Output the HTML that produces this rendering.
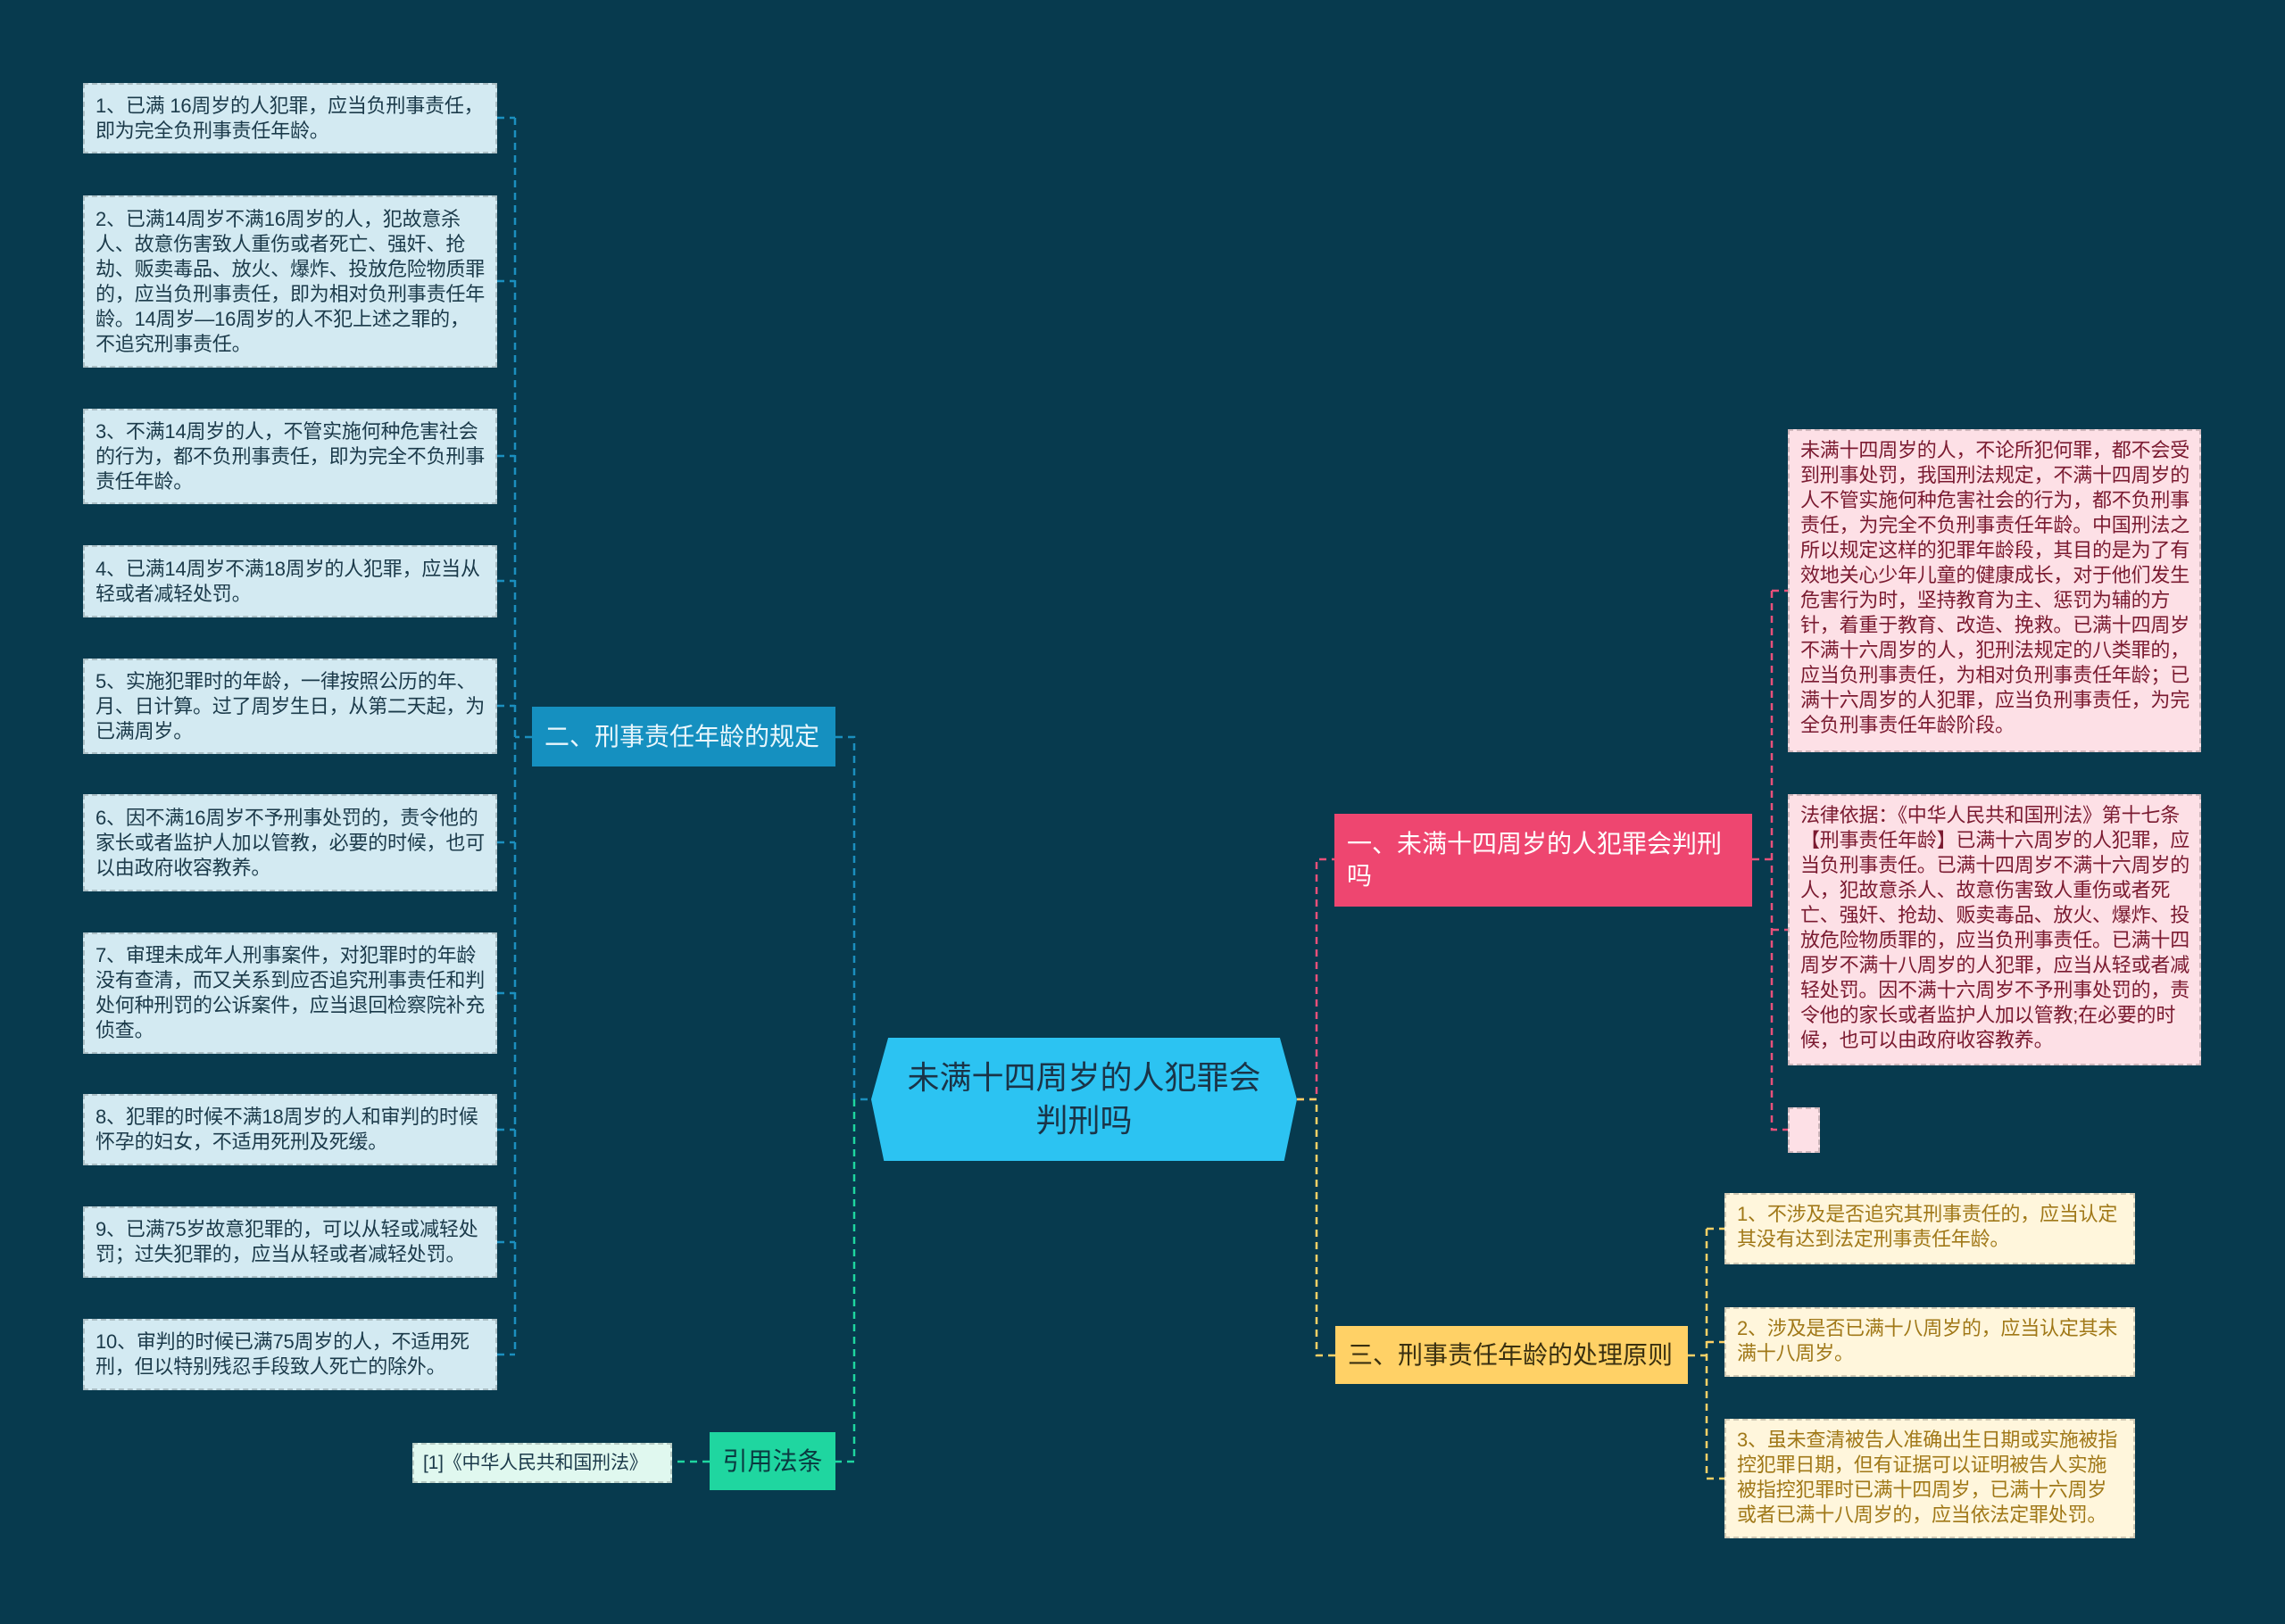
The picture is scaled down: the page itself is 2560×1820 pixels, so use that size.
<!DOCTYPE html>
<html><head><meta charset="utf-8"><style>
body{margin:0;width:2560px;height:1820px;background:#073a4e;position:relative;overflow:hidden;font-family:"Liberation Sans","Noto Sans CJK SC",sans-serif}
.b{position:absolute;box-sizing:border-box;font-size:22px;line-height:28px;padding:8px 10px 8px 12px;border:2px dashed rgba(0,0,0,0.18);letter-spacing:-0.2px}
.l{background:#d3eaf2;color:#1b3a4a;left:93px;width:464px;display:flex;align-items:center}
.p{background:#fde0e6;color:#7a1a30;left:2003px;width:463px}
.y{background:#fff6dc;color:#a07818;left:1932px;width:460px}
.n{position:absolute;box-sizing:border-box;font-size:28px;line-height:36px;padding:0 14px;display:flex;align-items:center}
</style></head><body>
<svg width="2560" height="1820" style="position:absolute;left:0;top:0" fill="none" stroke-width="2.5" stroke-dasharray="8,6">
<g stroke="#1b8fbf">
<path d="M936 826 H957 V1232 H976"/>
<path d="M596 826 H577"/>
<path d="M577 132 V1518"/>
<path d="M557 132 H577 M557 315 H577 M557 511 H577 M557 651 H577 M557 791 H577 M557 944 H577 M557 1113 H577 M557 1266 H577 M557 1392 H577 M557 1518 H577"/>
</g>
<g stroke="#1fd6a0"><path d="M957 1232 V1638 H936"/><path d="M795 1638 H753"/></g>
<g stroke="#e8507a"><path d="M1453 1232 H1475 V963 H1495"/><path d="M1963 963 H1985"/><path d="M1985 662 V1266 H2003 M1985 662 H2003 M1985 1042 H2003"/></g>
<g stroke="#ffd166"><path d="M1453 1232 H1475 V1519 H1496"/><path d="M1891 1519 H1912"/><path d="M1912 1377 V1657 M1912 1377 H1932 M1912 1504 H1932 M1912 1657 H1932"/></g>
</svg>

<div class="b l" style="top:93px;height:79px">1、已满 16周岁的人犯罪，应当负刑事责任，即为完全负刑事责任年龄。</div>
<div class="b l" style="top:219px;height:193px">2、已满14周岁不满16周岁的人，犯故意杀人、故意伤害致人重伤或者死亡、强奸、抢劫、贩卖毒品、放火、爆炸、投放危险物质罪的，应当负刑事责任，即为相对负刑事责任年龄。14周岁—16周岁的人不犯上述之罪的，不追究刑事责任。</div>
<div class="b l" style="top:458px;height:107px">3、不满14周岁的人，不管实施何种危害社会的行为，都不负刑事责任，即为完全不负刑事责任年龄。</div>
<div class="b l" style="top:611px;height:81px">4、已满14周岁不满18周岁的人犯罪，应当从轻或者减轻处罚。</div>
<div class="b l" style="top:738px;height:107px">5、实施犯罪时的年龄，一律按照公历的年、月、日计算。过了周岁生日，从第二天起，为已满周岁。</div>
<div class="b l" style="top:890px;height:109px">6、因不满16周岁不予刑事处罚的，责令他的家长或者监护人加以管教，必要的时候，也可以由政府收容教养。</div>
<div class="b l" style="top:1045px;height:136px">7、审理未成年人刑事案件，对犯罪时的年龄没有查清，而又关系到应否追究刑事责任和判处何种刑罚的公诉案件，应当退回检察院补充侦查。</div>
<div class="b l" style="top:1226px;height:80px">8、犯罪的时候不满18周岁的人和审判的时候怀孕的妇女，不适用死刑及死缓。</div>
<div class="b l" style="top:1352px;height:80px">9、已满75岁故意犯罪的，可以从轻或减轻处罚；过失犯罪的，应当从轻或者减轻处罚。</div>
<div class="b l" style="top:1478px;height:80px">10、审判的时候已满75周岁的人，不适用死刑，但以特别残忍手段致人死亡的除外。</div>

<div class="n" style="left:596px;top:792px;width:340px;height:67px;background:#1590c0;color:#e8f6fc">二、刑事责任年龄的规定</div>
<div class="n" style="left:795px;top:1605px;width:141px;height:65px;background:#1fd6a0;color:#0a3a40;justify-content:center">引用法条</div>
<div class="b" style="left:462px;top:1617px;width:291px;height:45px;background:#e0f8ef;color:#1b3a4a;padding:7px 10px;font-size:21px">[1]《中华人民共和国刑法》</div>

<div style="position:absolute;left:976px;top:1163px;width:477px;height:138px;background:#2cc3f2;clip-path:polygon(4% 0,96% 0,100% 50%,97% 100%,3% 100%,0 50%);display:flex;align-items:center;justify-content:center;text-align:center;color:#1a3448;font-size:36px;line-height:48px">未满十四周岁的人犯罪会<br>判刑吗</div>

<div class="n" style="left:1495px;top:912px;width:468px;height:104px;background:#ee4670;color:#fff;align-items:center">一、未满十四周岁的人犯罪会判刑吗</div>
<div class="b p" style="top:481px;height:362px">未满十四周岁的人，不论所犯何罪，都不会受到刑事处罚，我国刑法规定，不满十四周岁的人不管实施何种危害社会的行为，都不负刑事责任，为完全不负刑事责任年龄。中国刑法之所以规定这样的犯罪年龄段，其目的是为了有效地关心少年儿童的健康成长，对于他们发生危害行为时，坚持教育为主、惩罚为辅的方针，着重于教育、改造、挽救。已满十四周岁不满十六周岁的人，犯刑法规定的八类罪的，应当负刑事责任，为相对负刑事责任年龄；已满十六周岁的人犯罪，应当负刑事责任，为完全负刑事责任年龄阶段。</div>
<div class="b p" style="top:890px;height:304px">法律依据：《中华人民共和国刑法》第十七条【刑事责任年龄】已满十六周岁的人犯罪，应当负刑事责任。已满十四周岁不满十六周岁的人，犯故意杀人、故意伤害致人重伤或者死亡、强奸、抢劫、贩卖毒品、放火、爆炸、投放危险物质罪的，应当负刑事责任。已满十四周岁不满十八周岁的人犯罪，应当从轻或者减轻处罚。因不满十六周岁不予刑事处罚的，责令他的家长或者监护人加以管教;在必要的时候，也可以由政府收容教养。</div>
<div class="b p" style="top:1241px;width:36px;height:51px;padding:0"></div>

<div class="n" style="left:1496px;top:1486px;width:395px;height:65px;background:#ffd166;color:#3a3010">三、刑事责任年龄的处理原则</div>
<div class="b y" style="top:1337px;height:80px">1、不涉及是否追究其刑事责任的，应当认定其没有达到法定刑事责任年龄。</div>
<div class="b y" style="top:1465px;height:78px">2、涉及是否已满十八周岁的，应当认定其未满十八周岁。</div>
<div class="b y" style="top:1590px;height:134px">3、虽未查清被告人准确出生日期或实施被指控犯罪日期，但有证据可以证明被告人实施被指控犯罪时已满十四周岁，已满十六周岁或者已满十八周岁的，应当依法定罪处罚。</div>
</body></html>
